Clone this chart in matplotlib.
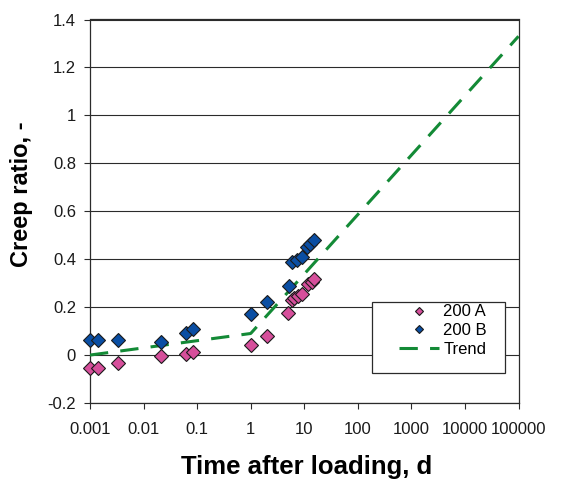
import numpy as np
import matplotlib
matplotlib.use("Agg")
import matplotlib.pyplot as plt
from matplotlib.patches import Rectangle

plt.rcParams['font.family'] = ['Liberation Sans', 'DejaVu Sans']
plt.rcParams['axes.unicode_minus'] = False

# Creep ratio measurements, time after loading in days
t_a = [0.001, 0.0014, 0.0034, 0.021, 0.062, 0.082, 1.0, 2.0, 5.0, 5.8, 6.5, 7.5, 8.9, 11.8, 13.7, 15.3]
phi_a = [-0.053, -0.053, -0.032, -0.004, 0.003, 0.011, 0.042, 0.081, 0.177, 0.230, 0.237, 0.246, 0.255, 0.296, 0.306, 0.316]

t_b = [0.001, 0.0014, 0.0034, 0.021, 0.062, 0.082, 1.0, 2.0, 5.1, 5.8, 7.2, 8.9, 11.3, 13.0, 15.0]
phi_b = [0.063, 0.063, 0.063, 0.056, 0.091, 0.109, 0.171, 0.223, 0.289, 0.390, 0.397, 0.411, 0.451, 0.465, 0.479]

# Fitted trend (piecewise linear in log time)
t_trend = [0.001, 1.0, 100000.0]
phi_trend = [0.0, 0.09, 1.33]

x_ticks = [0.001, 0.01, 0.1, 1, 10, 100, 1000, 10000, 100000]
x_labels = ["0.001", "0.01", "0.1", "1", "10", "100", "1000", "10000", "100000"]
y_ticks = [-0.2, 0.0, 0.2, 0.4, 0.6, 0.8, 1.0, 1.2, 1.4]
y_labels = ["-0.2", "0", "0.2", "0.4", "0.6", "0.8", "1", "1.2", "1.4"]

PINK = '#D64F9B'
BLUE = '#0A4EA3'
GREEN = '#138A36'

fig = plt.figure(figsize=(5.69, 4.86), dpi=100)
ax = fig.add_axes([90 / 569, 83 / 486, 428.5 / 569, 383.5 / 486])

ax.plot(t_trend, phi_trend, color=GREEN, lw=2.2, dashes=(6, 4), zorder=3, label='Trend')
ax.plot(t_a, phi_a, ls='none', marker='D', ms=7, mfc=PINK, mec='#1a1a1a', mew=0.8,
        clip_on=False, zorder=6, label='200 A')
ax.plot(t_b, phi_b, ls='none', marker='D', ms=7, mfc=BLUE, mec='#1a1a1a', mew=0.8,
        clip_on=False, zorder=6, label='200 B')

ax.set_xscale('log')
ax.set_xlim(0.001, 100000)
ax.set_ylim(-0.2, 1.4)
ax.set_xticks(x_ticks)
ax.set_xticklabels(x_labels)
ax.xaxis.set_minor_locator(matplotlib.ticker.NullLocator())
ax.set_yticks(y_ticks)
ax.set_yticklabels(y_labels)

ax.yaxis.grid(True, color='#2b2b2b', lw=0.8)
ax.set_axisbelow(True)
for s in ax.spines.values():
    s.set_color('#2b2b2b')
    s.set_linewidth(0.9)

ax.tick_params(axis='both', direction='out', length=4, width=0.8, colors='#2b2b2b',
               labelcolor='#1a1a1a', labelsize=12)
ax.tick_params(axis='x', pad=9.5)
ax.tick_params(axis='y', pad=6)

ax.set_xlabel('Time after loading, d', fontsize=18.5, fontweight='bold', va='center')
ax.xaxis.set_label_coords(0.506, -0.167)
ax.set_ylabel('Creep ratio, -', fontsize=17, fontweight='bold', va='center')
ax.yaxis.set_label_coords(-0.159, 0.545)

# Legend frame
box = Rectangle(((372 - 90) / 428.5, (403 - 373) / 383.5), 133 / 428.5, 71 / 383.5,
                transform=ax.transAxes, facecolor='white', edgecolor='#2b2b2b', lw=0.9,
                zorder=7)
ax.add_patch(box)

h, l = ax.get_legend_handles_labels()
order = [1, 2, 0]
leg = ax.legend([h[i] for i in order], [l[i] for i in order], loc='upper left',
                bbox_to_anchor=((399 - 90) / 428.5, (403 - 304.4) / 383.5),
                frameon=False, borderpad=0, borderaxespad=0, fontsize=12,
                handlelength=2.4, handletextpad=0.25, labelspacing=0.23,
                markerscale=0.6)
leg.set_zorder(8)

fig.savefig('out.png', dpi=100)
